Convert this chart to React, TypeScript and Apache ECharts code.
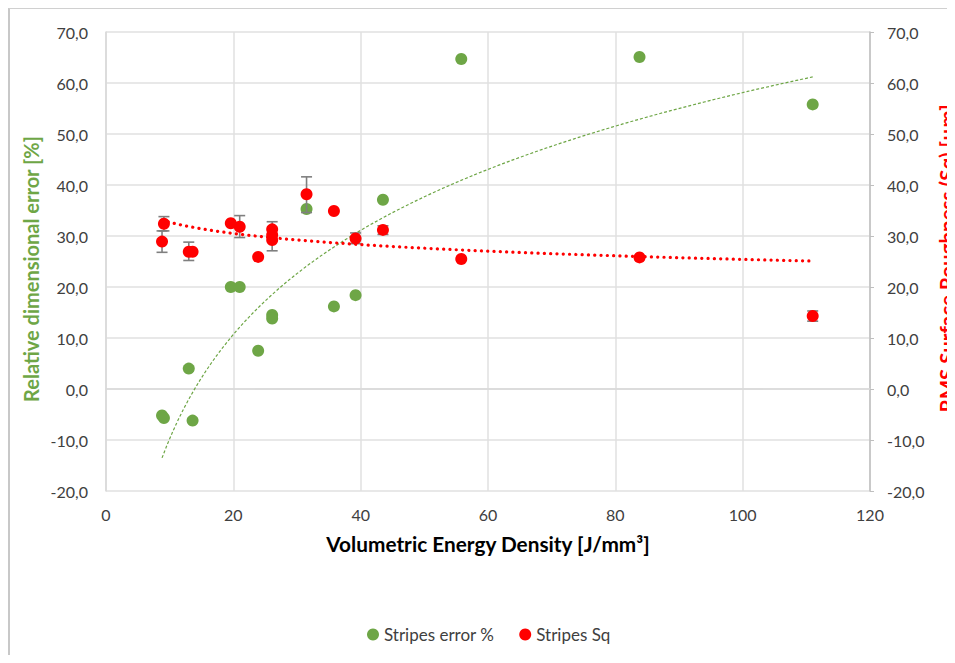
import React, { useEffect, useRef } from "react";
import * as echarts from "echarts";

// Stripes error % (left axis)
const errX = [8.8, 9.1, 13.0, 13.6, 19.6, 21.0, 23.9, 26.1, 26.1, 31.5, 35.8, 39.2, 43.5, 55.8, 83.8, 111.0];
const errY = [-5.2, -5.7, 4.0, -6.2, 20.0, 20.0, 7.5, 14.5, 13.8, 35.3, 16.2, 18.4, 37.1, 64.7, 65.1, 55.8];

// Stripes Sq (right axis)
const sqX = [8.8, 9.1, 13.0, 13.6, 19.6, 21.0, 23.9, 26.1, 26.1, 26.1, 31.5, 35.8, 39.2, 43.5, 55.8, 83.8, 111.0];
const sqY = [28.9, 32.4, 26.9, 26.9, 32.5, 31.8, 25.9, 31.3, 30.2, 29.2, 38.2, 34.9, 29.5, 31.2, 25.5, 25.8, 14.3];

// Error bars on Sq: x, low, high
const barX = [8.8, 9.1, 13.0, 21.0, 26.1, 31.5, 39.2, 43.5, 111.0];
const barLow = [26.8, 31.0, 25.2, 29.7, 27.1, 34.6, 28.5, 30.3, 13.3];
const barHigh = [31.0, 33.8, 28.8, 34.0, 32.8, 41.6, 30.6, 32.0, 15.3];

// Logarithmic trendlines y = a*ln(x) + b
const errTrend = { a: 29.47, b: -77.6 };
const sqTrend = { a: -3.16, b: 39.97 };
const trendXStart = 8.8;
const trendXEnd = 111.0;

const xTicks = { min: 0, max: 120, interval: 20 };
const yTicks = { min: -20, max: 70, interval: 10 };

const leftTitle = "Relative dimensional error [%]";
const rightTitle = "RMS Surface Roughness (Sq) [µm]";
const xTitle = "Volumetric Energy Density [J/mm³]";

const GREEN = "#6ea646";
const RED = "#ff0000";
const TEXT = "#404040";
const FONT = "Lato, 'Open Sans', sans-serif";

function trend(t: { a: number; b: number }) {
  const pts: number[][] = [];
  const n = 120;
  for (let i = 0; i <= n; i++) {
    const x = trendXStart + ((trendXEnd - trendXStart) * i) / n;
    pts.push([x, t.a * Math.log(x) + t.b]);
  }
  return pts;
}

const fmt = (v: number) => v.toFixed(1).replace(".", ",");

export default function App() {
  const ref = useRef<HTMLDivElement>(null);
  useEffect(() => {
    document.documentElement.style.overflow = "hidden";
    document.body.style.overflow = "hidden";
    if (!ref.current) return;
    const chart = echarts.init(ref.current, undefined, { renderer: "svg" });
    const axisLabel = { color: TEXT, fontSize: 16, fontFamily: FONT };
    chart.setOption({
      animation: false,
      textStyle: { fontFamily: FONT },
      grid: { left: 96, top: 23, width: 764, height: 459, containLabel: false },
      graphic: [
        {
          type: "text",
          x: 20.5,
          y: 260,
          rotation: Math.PI / 2,
          style: {
            text: leftTitle,
            fill: GREEN,
            font: "bold 20px Lato, 'Open Sans', sans-serif",
            align: "center",
            verticalAlign: "middle",
          },
        },
        {
          type: "text",
          x: 936.5,
          y: 249.5,
          rotation: Math.PI / 2,
          style: {
            text: rightTitle,
            fill: RED,
            font: "bold 20.5px Lato, 'Open Sans', sans-serif",
            align: "center",
            verticalAlign: "middle",
          },
        },
      ],
      legend: {
        top: 612,
        left: 352,
        icon: "circle",
        itemWidth: 12,
        itemHeight: 12,
        itemGap: 25,
        textStyle: { color: TEXT, fontSize: 17, fontFamily: FONT },
        data: ["Stripes error %", "Stripes Sq"],
      },
      xAxis: {
        type: "value",
        min: xTicks.min,
        max: xTicks.max,
        interval: xTicks.interval,
        name: xTitle,
        nameLocation: "middle",
        nameGap: 42,
        nameTextStyle: { color: "#000", fontSize: 20.8, fontWeight: "bold", fontFamily: FONT },
        axisLine: { show: true, lineStyle: { color: "#d9d9d9", width: 1.5 } },
        axisTick: { show: false },
        axisLabel: { ...axisLabel, margin: 15 },
        splitLine: { show: true, lineStyle: { color: "#e0e0e0", width: 1.5 } },
      },
      yAxis: [
        {
          type: "value",
          min: yTicks.min,
          max: yTicks.max,
          interval: yTicks.interval,
          axisLine: { show: true, lineStyle: { color: "#d9d9d9", width: 1.5 } },
          axisTick: { show: false },
          axisLabel: { ...axisLabel, margin: 18, formatter: fmt },
          splitLine: { show: true, lineStyle: { color: "#e0e0e0", width: 1.5 } },
        },
        {
          type: "value",
          position: "right",
          min: yTicks.min,
          max: yTicks.max,
          interval: yTicks.interval,
          axisLine: { show: true, lineStyle: { color: "#bfbfbf", width: 1.5 } },
          axisTick: { show: true, length: 4, lineStyle: { color: "#bfbfbf" } },
          axisLabel: { ...axisLabel, margin: 17, formatter: fmt },
          splitLine: { show: false },
        },
      ],
      series: [
        {
          name: "Stripes error %",
          type: "scatter",
          yAxisIndex: 0,
          symbolSize: 12,
          itemStyle: { color: GREEN, opacity: 1 },
          data: errX.map((x, i) => [x, errY[i]]),
          z: 2,
        },
        {
          name: "errTrend",
          type: "line",
          yAxisIndex: 0,
          showSymbol: false,
          smooth: false,
          lineStyle: { color: GREEN, width: 1.2, type: [3, 2] },
          data: trend(errTrend),
          z: 3,
          silent: true,
        },
        {
          name: "sqErr",
          type: "custom",
          yAxisIndex: 1,
          data: barX.map((x, i) => [x, barLow[i], barHigh[i]]),
          renderItem: (params: any, api: any) => {
            const x = api.value(0);
            const lo = api.coord([x, api.value(1)]);
            const hi = api.coord([x, api.value(2)]);
            const hw = 5.5;
            const style = { stroke: "#7f7f7f", lineWidth: 1.6 };
            return {
              type: "group",
              children: [
                { type: "line", shape: { x1: lo[0], y1: lo[1], x2: hi[0], y2: hi[1] }, style },
                { type: "line", shape: { x1: lo[0] - hw, y1: lo[1], x2: lo[0] + hw, y2: lo[1] }, style },
                { type: "line", shape: { x1: hi[0] - hw, y1: hi[1], x2: hi[0] + hw, y2: hi[1] }, style },
              ],
            };
          },
          z: 4,
          silent: true,
        },
        {
          name: "Stripes Sq",
          type: "scatter",
          yAxisIndex: 1,
          symbolSize: 12,
          itemStyle: { color: RED, opacity: 1 },
          data: sqX.map((x, i) => [x, sqY[i]]),
          z: 5,
        },
        {
          name: "sqTrend",
          type: "line",
          yAxisIndex: 1,
          showSymbol: false,
          lineStyle: { color: RED, width: 3.2, type: [0.1, 6.2], cap: "round" },
          data: trend(sqTrend),
          z: 6,
          silent: true,
        },
      ],
    });
    return () => chart.dispose();
  }, []);
  return (
    <div
      style={{
        width: 975,
        height: 646,
        borderTop: "1px solid #d0d0d0",
        borderLeft: "2px solid #c8c8c8",
        background: "#fff",
      }}
    >
      <div ref={ref} style={{ width: 975, height: 646 }} />
    </div>
  );
}
